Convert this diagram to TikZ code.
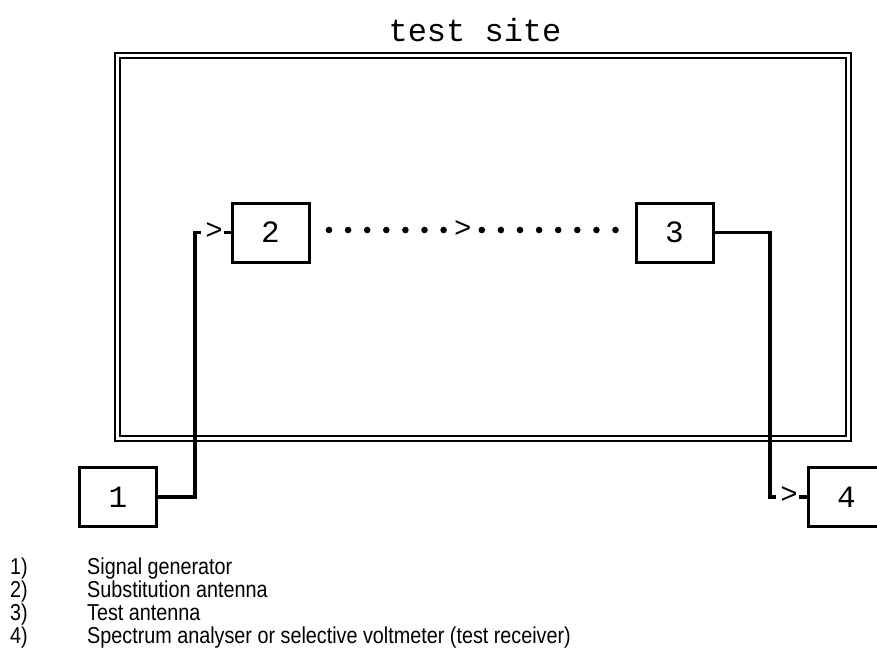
\documentclass[tikz,border=0pt]{standalone}
\usepackage{fontspec}
\setmainfont{Liberation Sans}
\newfontfamily\mono{Liberation Mono}
\newcommand{\legtext}[1]{\scalebox{0.86}[1]{#1}}
\begin{document}
\begin{tikzpicture}[x=1pt,y=-1pt,
  box/.style={draw, line width=3pt, minimum width=77pt, minimum height=59pt, inner sep=0pt, font=\mono\fontsize{31}{31}\selectfont},
  wire/.style={line width=3.2pt},
  chev/.style={inner sep=0pt, font=\mono\fontsize{29}{29}\selectfont},
  legend/.style={anchor=base west, inner sep=0pt, font=\fontsize{23}{23}\selectfont}]
\useasboundingbox (0,0) rectangle (877,662);
\clip (0,0) rectangle (877,662);
% test site frame
\node (site) [draw, double, double distance=2.8pt, line width=2.2pt, minimum width=731pt, minimum height=383pt, inner sep=0pt] at (483,247) {};
\node (title) [font=\mono\fontsize{32}{32}\selectfont, inner sep=0pt] at (475,30) {test site};
% boxes
\node (b1) [box] at (118,497) {1};
\node (b2) [box] at (270.5,232.5) {2};
\node (b3) [box] at (674.5,232.5) {3};
\node (b4) [box] at (846.5,497) {4};
% connector 1 -> 2
\coordinate (c1) at (195,232.5);
\coordinate (c1e) at (201,232.5);
\node (a1) [chev] at (214,231) {>};
\coordinate (a1e) at (224,232.5);
\draw[wire] (b1.east) -| (c1) -- (c1e);
\draw[wire] (a1e) -- (b2.west);
% connector 3 -> 4
\coordinate (c2) at (770,497);
\coordinate (c2e) at (776,497);
\node (a2) [chev] at (789,495.5) {>};
\coordinate (a2e) at (799,497);
\draw[wire] (b3.east) -| (c2) -- (c2e);
\draw[wire] (a2e) -- (b4.west);
% dotted path 2 -> 3
\foreach \k in {0,...,6,8,9,...,15} {\fill (329+19.1*\k,230) circle (3.3pt);}
\node (a3) [chev] at (462.7,229) {>};
% legend
\node (l1n) [legend] at (10,574) {\legtext{1)}};
\node (l1t) [legend] at (87,574) {\legtext{Signal generator}};
\node (l2n) [legend] at (10,597) {\legtext{2)}};
\node (l2t) [legend] at (87,597) {\legtext{Substitution antenna}};
\node (l3n) [legend] at (10,620) {\legtext{3)}};
\node (l3t) [legend] at (87,620) {\legtext{Test antenna}};
\node (l4n) [legend] at (10,643) {\legtext{4)}};
\node (l4t) [legend] at (87,643) {\legtext{Spectrum analyser or selective voltmeter (test receiver)}};
\end{tikzpicture}
\end{document}
